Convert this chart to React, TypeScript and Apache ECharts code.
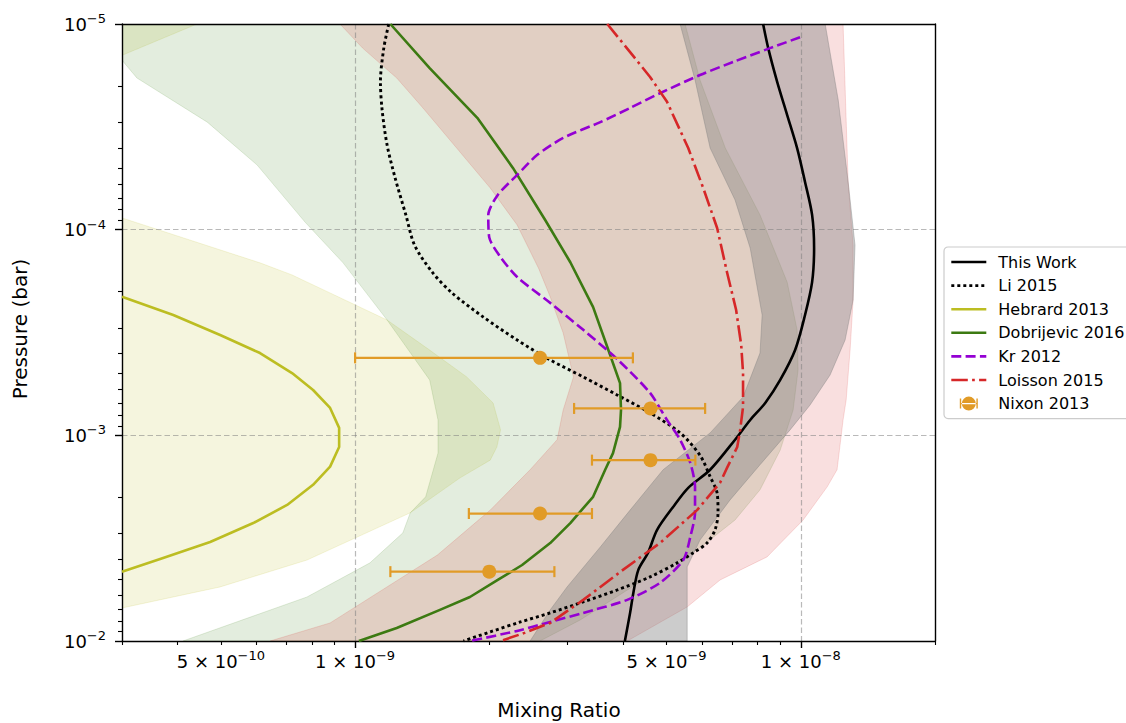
import React, { useEffect, useRef } from "react";
import * as echarts from "echarts";

const FONT = "DejaVu Sans";

// Axis ranges: mixing ratio (x) and pressure in bar (y, log scales)
const mixingMin = 3e-10;
const mixingMax = 2e-8;
const pressureTop = 1e-5;
const pressureBottom = 1e-2;

// Tick positions
const xLabelValues = [5e-10, 1e-9, 5e-9, 1e-8];
const xMajorValues = [1e-9, 1e-8];
const xMinorValues = [3e-10, 4e-10, 5e-10, 6e-10, 7e-10, 8e-10, 9e-10, 2e-9, 3e-9, 4e-9, 5e-9, 6e-9, 7e-9, 8e-9, 9e-9, 2e-8];
const yMajorValues = [1e-5, 1e-4, 1e-3, 1e-2];
const yGridValues = [1e-4, 1e-3];
const yMinorValues = [
  2e-5, 3e-5, 4e-5, 5e-5, 6e-5, 7e-5, 8e-5, 9e-5,
  2e-4, 3e-4, 4e-4, 5e-4, 6e-4, 7e-4, 8e-4, 9e-4,
  2e-3, 3e-3, 4e-3, 5e-3, 6e-3, 7e-3, 8e-3, 9e-3,
];

const legendNames = ["This Work", "Li 2015", "Hebrard 2013", "Dobrijevic 2016", "Kr 2012", "Loisson 2015", "Nixon 2013"];

// ---- Profiles ----
const thisWorkP = [1.0e-5, 1.31e-5, 1.91e-5, 2.77e-5, 4.01e-5, 5.86e-5, 8.48e-5, 1.23e-4, 1.80e-4, 2.60e-4, 3.85e-4, 5.38e-4, 6.96e-4, 8.42e-4, 1.05e-3, 1.47e-3, 1.80e-3, 2.23e-3, 2.88e-3, 3.73e-3, 4.51e-3, 5.84e-3, 7.30e-3, 1.0e-2];
const thisWorkX = [8.23e-9, 8.45e-9, 8.85e-9, 9.32e-9, 9.81e-9, 10.22e-9, 10.6e-9, 10.71e-9, 10.6e-9, 10.22e-9, 9.71e-9, 8.99e-9, 8.32e-9, 7.70e-9, 7.12e-9, 6.26e-9, 5.59e-9, 5.17e-9, 4.76e-9, 4.54e-9, 4.32e-9, 4.21e-9, 4.14e-9, 4.03e-9];

const liP = [1.0e-5, 1.31e-5, 1.91e-5, 2.62e-5, 3.88e-5, 5.61e-5, 8.48e-5, 1.19e-4, 1.61e-4, 2.03e-4, 2.66e-4, 3.44e-4, 4.30e-4, 5.20e-4, 6.36e-4, 7.78e-4, 9.73e-4, 1.25e-3, 1.59e-3, 1.91e-3, 2.38e-3, 2.88e-3, 3.34e-3, 3.73e-3, 4.17e-3, 4.88e-3, 5.65e-3, 6.45e-3, 7.30e-3, 8.08e-3, 9.03e-3, 1.0e-2];
const liX = [1.19e-9, 1.16e-9, 1.14e-9, 1.15e-9, 1.18e-9, 1.23e-9, 1.30e-9, 1.36e-9, 1.49e-9, 1.65e-9, 1.94e-9, 2.31e-9, 2.74e-9, 3.25e-9, 3.87e-9, 4.59e-9, 5.36e-9, 5.94e-9, 6.26e-9, 6.49e-9, 6.52e-9, 6.42e-9, 6.16e-9, 5.73e-9, 5.28e-9, 4.59e-9, 3.87e-9, 3.25e-9, 2.74e-9, 2.35e-9, 2.01e-9, 1.75e-9];

const hebrardP = [2.12e-4, 2.60e-4, 3.25e-4, 3.98e-4, 4.98e-4, 6.02e-4, 7.36e-4, 9.20e-4, 1.14e-3, 1.42e-3, 1.74e-3, 2.18e-3, 2.67e-3, 3.30e-3, 3.95e-3, 4.61e-3];
const hebrardX = [3.0e-10, 3.91e-10, 4.98e-10, 6.12e-10, 7.22e-10, 8.05e-10, 8.79e-10, 9.21e-10, 9.21e-10, 8.79e-10, 8.05e-10, 7.04e-10, 5.91e-10, 4.73e-10, 3.71e-10, 3.0e-10];

const dobrijevicP = [1.0e-5, 1.64e-5, 2.86e-5, 5.01e-5, 8.97e-5, 1.44e-4, 2.38e-4, 3.72e-4, 5.57e-4, 7.53e-4, 9.10e-4, 1.22e-3, 1.47e-3, 1.99e-3, 2.67e-3, 3.34e-3, 4.27e-3, 5.05e-3, 6.11e-3, 7.06e-3, 8.64e-3, 1.0e-2];
const dobrijevicX = [1.20e-9, 1.47e-9, 1.88e-9, 2.26e-9, 2.67e-9, 3.04e-9, 3.42e-9, 3.68e-9, 3.93e-9, 3.95e-9, 3.93e-9, 3.79e-9, 3.64e-9, 3.42e-9, 3.04e-9, 2.74e-9, 2.37e-9, 2.09e-9, 1.81e-9, 1.55e-9, 1.24e-9, 1.02e-9];

const krP = [1.16e-5, 1.31e-5, 1.53e-5, 1.77e-5, 2.17e-5, 2.56e-5, 3.00e-5, 3.58e-5, 4.34e-5, 5.42e-5, 6.78e-5, 8.48e-5, 1.09e-4, 1.36e-4, 1.70e-4, 2.27e-4, 3.07e-4, 4.30e-4, 6.22e-4, 8.42e-4, 1.05e-3, 1.36e-3, 1.78e-3, 2.38e-3, 3.12e-3, 4.04e-3, 5.22e-3, 6.31e-3, 7.30e-3, 8.08e-3, 8.93e-3, 1.0e-2];
const krX = [9.96e-9, 8.53e-9, 7.05e-9, 5.94e-9, 4.83e-9, 4.14e-9, 3.55e-9, 2.93e-9, 2.56e-9, 2.31e-9, 2.09e-9, 1.99e-9, 2.0e-9, 2.12e-9, 2.31e-9, 2.74e-9, 3.25e-9, 3.89e-9, 4.59e-9, 5.01e-9, 5.36e-9, 5.65e-9, 5.79e-9, 5.79e-9, 5.65e-9, 5.45e-9, 4.83e-9, 4.08e-9, 3.25e-9, 2.74e-9, 2.31e-9, 1.81e-9];

const loissonP = [1.0e-5, 1.37e-5, 1.81e-5, 2.39e-5, 4.01e-5, 6.27e-5, 9.81e-5, 1.61e-4, 2.46e-4, 3.64e-4, 4.98e-4, 7.28e-4, 9.41e-4, 1.14e-3, 1.44e-3, 1.70e-3, 2.31e-3, 3.34e-3, 4.51e-3, 6.31e-3, 8.17e-3, 9.13e-3, 1.0e-2];
const loissonX = [3.68e-9, 4.14e-9, 4.59e-9, 5.01e-9, 5.59e-9, 6.04e-9, 6.49e-9, 6.83e-9, 7.16e-9, 7.35e-9, 7.42e-9, 7.42e-9, 7.31e-9, 7.20e-9, 6.83e-9, 6.59e-9, 5.85e-9, 4.83e-9, 3.99e-9, 3.25e-9, 2.74e-9, 2.40e-9, 2.12e-9];

// Nixon 2013 retrievals with symmetric mixing-ratio errors
const nixonX = [2.6e-9, 4.6e-9, 4.6e-9, 2.6e-9, 2.0e-9];
const nixonErr = [1.6e-9, 1.5e-9, 1.2e-9, 0.8e-9, 0.8e-9];
const nixonP = [4.2e-4, 7.4e-4, 1.32e-3, 2.4e-3, 4.6e-3];

// ---- Uncertainty envelopes (low / high mixing-ratio bounds) ----
const hebrardLowX = [1e-10, 1e-10];
const hebrardLowP = [1e-5, 1e-2];
const hebrardHighX = [4.42e-10, 3.0e-10, 2.54e-10, 2.68e-10, 3.0e-10, 6.12e-10, 7.22e-10, 1.18e-9, 1.47e-9, 1.78e-9, 2.04e-9, 2.12e-9, 2.08e-9, 2.01e-9, 1.72e-9, 1.33e-9, 7.8e-10, 4.98e-10, 3.0e-10, 2.18e-10];
const hebrardHighP = [1.0e-5, 1.42e-5, 2.34e-5, 5.73e-5, 8.77e-5, 1.45e-4, 1.66e-4, 2.75e-4, 3.85e-4, 5.20e-4, 6.96e-4, 9.41e-4, 1.14e-3, 1.32e-3, 1.61e-3, 2.38e-3, 4.04e-3, 5.46e-3, 6.91e-3, 1.0e-2];

const dobrijevicLowX = [2.68e-10, 3.0e-10, 3.24e-10, 4.66e-10, 6.03e-10, 7.72e-10, 9.40e-10, 1.18e-9, 1.47e-9, 1.535e-9, 1.535e-9, 1.44e-9, 1.33e-9, 1.28e-9, 1.08e-9, 7.8e-10, 4.11e-10];
const dobrijevicLowP = [1.0e-5, 1.50e-5, 1.83e-5, 3.0e-5, 4.85e-5, 9.18e-5, 1.45e-4, 2.75e-4, 5.38e-4, 8.42e-4, 1.22e-3, 1.99e-3, 2.38e-3, 2.98e-3, 4.17e-3, 6.11e-3, 1.0e-2];
const dobrijevicHighX = [5.50e-9, 5.94e-9, 6.77e-9, 8.10e-9, 9.32e-9, 9.81e-9, 9.86e-9, 9.61e-9, 8.99e-9, 8.10e-9, 7.12e-9, 5.94e-9, 4.36e-9, 3.20e-9, 2.60e-9];
const dobrijevicHighP = [1.0e-5, 1.87e-5, 4.01e-5, 8.48e-5, 1.80e-4, 3.07e-4, 4.81e-4, 7.53e-4, 1.18e-3, 1.84e-3, 2.58e-3, 3.52e-3, 5.16e-3, 7.90e-3, 1.0e-2];

const loissonLowX = [9.25e-10, 1.04e-9, 1.24e-9, 1.42e-9, 1.69e-9, 2.01e-9, 2.31e-9, 2.58e-9, 2.74e-9, 2.93e-9, 3.09e-9, 2.93e-9, 2.84e-9, 2.47e-9, 2.01e-9, 1.53e-9, 8.79e-10, 6.45e-10];
const loissonLowP = [1.0e-5, 1.31e-5, 1.83e-5, 2.56e-5, 4.01e-5, 6.27e-5, 9.49e-5, 1.54e-4, 2.12e-4, 3.18e-4, 5.20e-4, 7.53e-4, 1.05e-3, 1.47e-3, 2.31e-3, 3.82e-3, 8.17e-3, 1.0e-2];
const loissonHighX = [1.244e-8, 1.277e-8, 1.31e-8, 1.31e-8, 1.29e-8, 1.264e-8, 1.244e-8, 1.206e-8, 1.146e-8, 1.012e-8, 8.40e-9, 6.59e-9, 5.56e-9, 4.08e-9];
const loissonHighP = [1.0e-5, 5.86e-5, 1.19e-4, 2.20e-4, 3.85e-4, 6.73e-4, 8.42e-4, 1.47e-3, 1.78e-3, 2.58e-3, 3.90e-3, 5.05e-3, 6.83e-3, 1.0e-2];

const thisWorkLowX = [5.36e-9, 5.79e-9, 6.26e-9, 7.12e-9, 7.70e-9, 8.19e-9, 8.10e-9, 7.42e-9, 6.26e-9, 4.91e-9, 4.14e-9, 3.55e-9, 2.99e-9, 2.74e-9, 2.47e-9];
const thisWorkLowP = [1.0e-5, 1.87e-5, 4.01e-5, 7.17e-5, 1.23e-4, 2.60e-4, 3.98e-4, 6.51e-4, 9.73e-4, 1.47e-3, 2.31e-3, 3.49e-3, 5.46e-3, 7.06e-3, 1.0e-2];
const thisWorkHighX = [1.134e-8, 1.213e-8, 1.277e-8, 1.323e-8, 1.31e-8, 1.257e-8, 1.163e-8, 1.049e-8, 9.46e-9, 8.10e-9, 6.94e-9, 5.94e-9, 5.56e-9, 5.56e-9];
const thisWorkHighP = [1.0e-5, 2.34e-5, 5.86e-5, 1.19e-4, 2.20e-4, 3.44e-4, 5.09e-4, 7.12e-4, 9.41e-4, 1.39e-3, 2.06e-3, 3.23e-3, 4.36e-3, 1.0e-2];

// ---- Colours ----
const BLACK = "#000000";
const OLIVE = "#bcbd22";
const GREEN = "#3c7a12";
const PURPLE = "#9400d3";
const RED = "#d62728";
const ORANGE = "#e19b27";
const GRID = "rgba(128,128,128,0.55)";

const lg = Math.log10;
const pairs = (xs: number[], ps: number[]) => xs.map((x, i) => [lg(x), lg(ps[i])]);

function lineSeries(name: string, xs: number[], ps: number[], color: string, type: any, smooth: number, width = 2.6) {
  return {
    type: "line",
    name,
    data: pairs(xs, ps),
    symbol: "none",
    showSymbol: false,
    smooth,
    clip: true,
    silent: true,
    z: 2,
    lineStyle: { color, width, type, cap: "butt", join: "round" },
    itemStyle: { color },
    emphasis: { disabled: true },
  };
}

function bandSeries(name: string, lowX: number[], lowP: number[], highX: number[], highP: number[], fill: string) {
  const ring = [...pairs(highX, highP), ...pairs(lowX, lowP).reverse()];
  return {
    type: "custom",
    name,
    z: -1,
    clip: true,
    silent: true,
    data: [ring[0]],
    renderItem: (_params: any, api: any) => ({
      type: "polygon",
      shape: { points: ring.map((pt) => api.coord(pt)) },
      style: { fill, stroke: fill, lineWidth: 1 },
    }),
  };
}

const fmtX = (v: number) => {
  const e = Math.floor(v + 1e-6);
  const m = Math.round(Math.pow(10, v - e));
  return `{b|${m} × 10}{s|−${-e}}`;
};
const fmtY = (v: number) => `{b|10}{s|−${-Math.round(v)}}`;

const labelRich = {
  b: { fontFamily: FONT, fontSize: 18, lineHeight: 24, color: BLACK },
  s: { fontFamily: FONT, fontSize: 13, lineHeight: 13, color: BLACK, verticalAlign: "top" },
};

const spine = { show: true, onZero: false, lineStyle: { color: BLACK, width: 1.4 } };
const majorTick = { color: BLACK, width: 1.4 };
const minorTick = { color: BLACK, width: 1.1 };
const gridDash = { color: GRID, width: 1.2, type: [5.5, 3] };

function buildOption() {
  const xBase = { type: "value", gridIndex: 0, min: lg(mixingMin), max: lg(mixingMax), z: 1 };
  const yBase = { type: "value", gridIndex: 0, min: lg(pressureTop), max: lg(pressureBottom), inverse: true, z: 1 };
  const off = { show: false };

  const nixonIcon =
    "path://M0 2H1.4V12H0Z M16.6 2H18V12H16.6Z M1.4 6.3H16.6V7.7H1.4Z M2 7A7 7 0 1 0 16 7A7 7 0 1 0 2 7Z";
  const lineItem = (name: string) => ({ name, itemStyle: { opacity: 0 } });

  return {
    animation: false,
    backgroundColor: "#ffffff",
    textStyle: { fontFamily: FONT },
    grid: { left: 122, top: 24, width: 813, height: 617, containLabel: false },
    xAxis: [
      {
        ...xBase,
        position: "bottom",
        axisLine: spine,
        axisTick: { show: true, length: 7, lineStyle: majorTick, customValues: xMajorValues.map(lg) },
        axisLabel: { show: true, margin: 8, customValues: xLabelValues.map(lg), formatter: fmtX, rich: labelRich },
        splitLine: { show: true, lineStyle: gridDash },
      },
      {
        ...xBase,
        position: "bottom",
        axisLine: off,
        axisLabel: off,
        splitLine: off,
        axisTick: { show: true, length: 4, lineStyle: minorTick, customValues: xMinorValues.map(lg) },
      },
      { ...xBase, position: "top", axisLine: spine, axisTick: off, axisLabel: off, splitLine: off },
    ],
    yAxis: [
      {
        ...yBase,
        position: "left",
        axisLine: spine,
        axisTick: { show: true, length: 7, lineStyle: majorTick, customValues: yMajorValues.map(lg) },
        axisLabel: { show: true, margin: 16, customValues: yMajorValues.map(lg), formatter: fmtY, rich: labelRich },
        splitLine: off,
      },
      {
        ...yBase,
        position: "left",
        axisLine: off,
        axisLabel: off,
        splitLine: off,
        axisTick: { show: true, length: 4, lineStyle: minorTick, customValues: yMinorValues.map(lg) },
      },
      { ...yBase, position: "right", axisLine: spine, axisTick: off, axisLabel: off, splitLine: off },
      {
        ...yBase,
        position: "left",
        axisLine: off,
        axisLabel: off,
        axisTick: { show: false, customValues: yGridValues.map(lg) },
        splitLine: { show: true, lineStyle: gridDash },
      },
    ],
    legend: {
      orient: "vertical",
      left: 944,
      top: 247,
      padding: [7, 8, 7, 6],
      itemGap: 7.6,
      itemWidth: 35,
      itemHeight: 14,
      selectedMode: false,
      backgroundColor: "rgba(255,255,255,0.8)",
      borderColor: "#cccccc",
      borderWidth: 1.2,
      borderRadius: 4,
      lineStyle: { width: 2.6 },
      formatter: (n: string) => `{t|${n}}`,
      textStyle: {
        fontFamily: FONT,
        fontSize: 16,
        lineHeight: 16,
        color: BLACK,
        rich: { t: { fontFamily: FONT, fontSize: 16, lineHeight: 16, color: BLACK, padding: [0, 0, 0, 7] } },
      },
      data: [
        lineItem(legendNames[0]),
        lineItem(legendNames[1]),
        lineItem(legendNames[2]),
        lineItem(legendNames[3]),
        lineItem(legendNames[4]),
        lineItem(legendNames[5]),
        { name: legendNames[6], icon: nixonIcon },
      ],
    },
    graphic: [
      {
        type: "text",
        x: 20,
        y: 329,
        rotation: Math.PI / 2,
        style: {
          text: "Pressure (bar)",
          fontFamily: FONT,
          fontSize: 20,
          fill: BLACK,
          align: "center",
          verticalAlign: "middle",
          textAlign: "center",
          textVerticalAlign: "middle",
        },
      },
      {
        type: "text",
        x: 559,
        y: 710,
        style: {
          text: "Mixing Ratio",
          fontFamily: FONT,
          fontSize: 20,
          fill: BLACK,
          align: "center",
          verticalAlign: "middle",
          textAlign: "center",
          textVerticalAlign: "middle",
        },
      },
    ],
    series: [
      bandSeries("Hebrard 2013 range", hebrardLowX, hebrardLowP, hebrardHighX, hebrardHighP, "rgba(188,189,34,0.15)"),
      bandSeries("Dobrijevic 2016 range", dobrijevicLowX, dobrijevicLowP, dobrijevicHighX, dobrijevicHighP, "rgba(68,135,35,0.15)"),
      bandSeries("Loisson 2015 range", loissonLowX, loissonLowP, loissonHighX, loissonHighP, "rgba(214,39,40,0.15)"),
      bandSeries("This Work range", thisWorkLowX, thisWorkLowP, thisWorkHighX, thisWorkHighP, "rgba(128,128,128,0.4)"),
      lineSeries(legendNames[0], thisWorkX, thisWorkP, BLACK, "solid", 0.3),
      lineSeries(legendNames[1], liX, liP, BLACK, [3, 3], 0.3, 2.9),
      lineSeries(legendNames[2], hebrardX, hebrardP, OLIVE, "solid", 0),
      lineSeries(legendNames[3], dobrijevicX, dobrijevicP, GREEN, "solid", 0),
      lineSeries(legendNames[4], krX, krP, PURPLE, [10, 4.3], 0.25),
      lineSeries(legendNames[5], loissonX, loissonP, RED, [16.5, 4.3, 2.7, 4.3], 0),
      {
        type: "custom",
        name: "Nixon 2013 error bars",
        z: 3,
        silent: true,
        clip: true,
        data: nixonX.map((x, i) => [lg(x), lg(nixonP[i]), lg(x - nixonErr[i]), lg(x + nixonErr[i])]),
        encode: { x: [0, 2, 3], y: 1 },
        renderItem: (_params: any, api: any) => {
          const y = api.value(1);
          const a = api.coord([api.value(2), y]);
          const b = api.coord([api.value(3), y]);
          const h = 5.5;
          const st = { stroke: ORANGE, lineWidth: 2.2 };
          return {
            type: "group",
            children: [
              { type: "line", shape: { x1: a[0], y1: a[1], x2: b[0], y2: b[1] }, style: st },
              { type: "line", shape: { x1: a[0], y1: a[1] - h, x2: a[0], y2: a[1] + h }, style: st },
              { type: "line", shape: { x1: b[0], y1: b[1] - h, x2: b[0], y2: b[1] + h }, style: st },
            ],
          };
        },
      },
      {
        type: "scatter",
        name: legendNames[6],
        z: 4,
        silent: true,
        data: pairs(nixonX, nixonP),
        symbol: "circle",
        symbolSize: 14,
        itemStyle: { color: ORANGE, opacity: 1 },
        emphasis: { disabled: true },
      },
    ],
  };
}

export default function App() {
  const ref = useRef<HTMLDivElement>(null);
  useEffect(() => {
    if (!ref.current) return;
    const chart = echarts.init(ref.current, null, { renderer: "svg" });
    chart.setOption(buildOption() as any);
    return () => chart.dispose();
  }, []);
  return (
    <div
      ref={ref}
      style={{ position: "fixed", left: 0, top: 0, width: 1126, height: 723, background: "#ffffff" }}
    />
  );
}
